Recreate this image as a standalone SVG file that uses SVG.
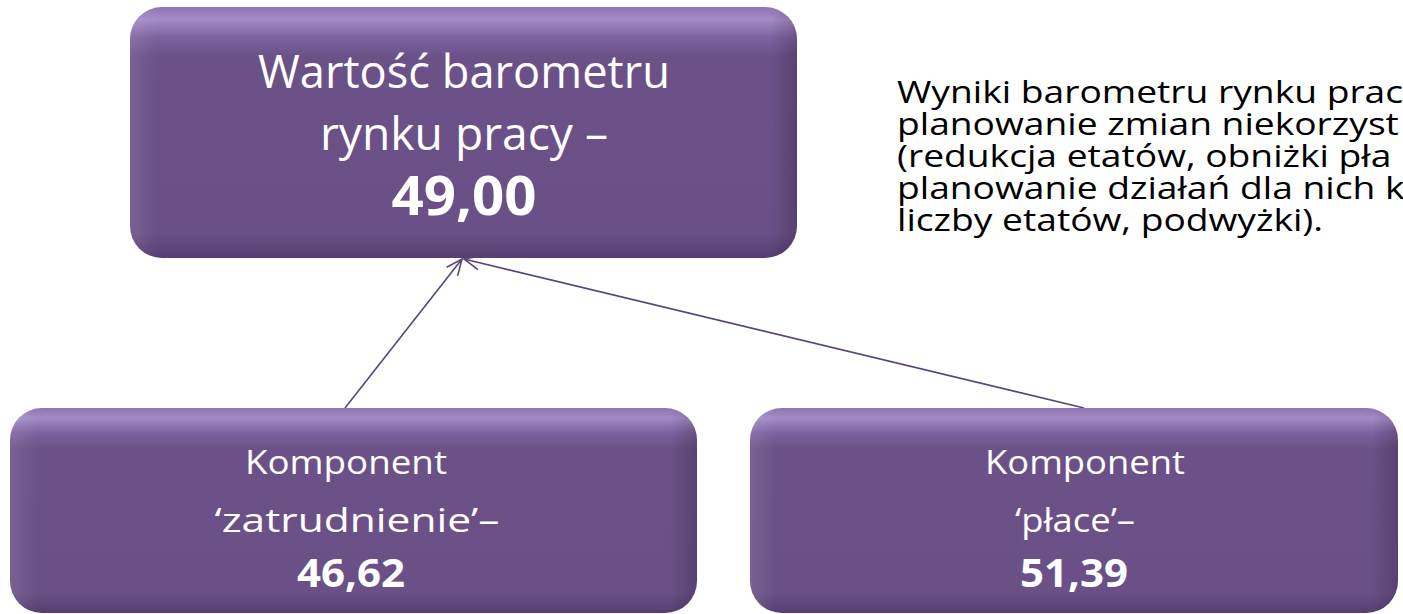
<svg xmlns="http://www.w3.org/2000/svg" width="1403" height="614" viewBox="0 0 1403 614">
  <style>
    .box { fill: url(#gv); }
    .edge { fill: url(#gh); }
    .t { font-family: "Open Sans", "Liberation Sans", sans-serif; fill: #ffffff; text-anchor: middle; }
    .big { font-size: 46px; }
    .bignum { font-size: 54px; font-weight: bold; }
    .mid { font-size: 33px; }
    .midnum { font-size: 40px; font-weight: bold; }
    .body { font-family: "Open Sans", "Liberation Sans", sans-serif; font-size: 31px; fill: #000000; }
    .conn { stroke: #5a4579; stroke-width: 1.6; fill: none; marker-end: url(#arr); }
  </style>
  <defs>
    <linearGradient id="gv" x1="0" y1="0" x2="0" y2="1">
      <stop offset="0" stop-color="#8f76b3"/>
      <stop offset="0.05" stop-color="#a38bc7"/>
      <stop offset="0.12" stop-color="#7d62a0"/>
      <stop offset="0.2" stop-color="#6b5187"/>
      <stop offset="0.9" stop-color="#6a5086"/>
      <stop offset="1" stop-color="#563f70"/>
    </linearGradient>
    <linearGradient id="gh" x1="0" y1="0" x2="1" y2="0">
      <stop offset="0" stop-color="#ffffff" stop-opacity="0.10"/>
      <stop offset="0.04" stop-color="#ffffff" stop-opacity="0"/>
      <stop offset="0.96" stop-color="#000000" stop-opacity="0"/>
      <stop offset="1" stop-color="#000000" stop-opacity="0.18"/>
    </linearGradient>
    <marker id="arr" markerWidth="20" markerHeight="20" refX="18" refY="10" orient="auto" markerUnits="userSpaceOnUse">
      <path d="M2,3 L18,10 L2,17" fill="none" stroke="#5a4579" stroke-width="1.6"/>
    </marker>
  </defs>

  <g id="connectors">
    <line class="conn" x1="345" y1="408" x2="462" y2="259"/>
    <line class="conn" x1="1084" y1="408" x2="464" y2="259"/>
  </g>

  <g id="node-barometr">
    <rect class="box" x="130" y="7" width="667" height="251" rx="32"/>
    <rect class="edge" x="130" y="7" width="667" height="251" rx="32"/>
    <text class="t big" x="464" y="88" textLength="412" lengthAdjust="spacingAndGlyphs">Wartość barometru</text>
    <text class="t big" x="464" y="150" textLength="288" lengthAdjust="spacingAndGlyphs">rynku pracy –</text>
    <text class="t bignum" x="464" y="215" textLength="145" lengthAdjust="spacingAndGlyphs">49,00</text>
  </g>

  <g id="node-zatrudnienie">
    <rect class="box" x="10" y="408" width="687" height="205" rx="32"/>
    <rect class="edge" x="10" y="408" width="687" height="205" rx="32"/>
    <text class="t mid" x="346" y="474" textLength="202" lengthAdjust="spacingAndGlyphs">Komponent</text>
    <text class="t mid" x="357" y="532" textLength="285" lengthAdjust="spacingAndGlyphs">‘zatrudnienie’–</text>
    <text class="t midnum" x="351" y="587" textLength="108" lengthAdjust="spacingAndGlyphs">46,62</text>
  </g>

  <g id="node-place">
    <rect class="box" x="750" y="408" width="648" height="205" rx="32"/>
    <rect class="edge" x="750" y="408" width="648" height="205" rx="32"/>
    <text class="t mid" x="1085" y="474" textLength="200" lengthAdjust="spacingAndGlyphs">Komponent</text>
    <text class="t mid" x="1075" y="532" textLength="120" lengthAdjust="spacingAndGlyphs">‘płace’–</text>
    <text class="t midnum" x="1074" y="587" textLength="108" lengthAdjust="spacingAndGlyphs">51,39</text>
  </g>

  <g id="note" transform="translate(897,0) scale(1.2,1)">
    <text class="body" x="0" y="103">Wyniki barometru rynku prac</text>
    <text class="body" x="0" y="135">planowanie zmian niekorzyst</text>
    <text class="body" x="0" y="167">(redukcja etatów, obniżki pła</text>
    <text class="body" x="0" y="199">planowanie działań dla nich k</text>
    <text class="body" x="0" y="231">liczby etatów, podwyżki).</text>
  </g>
</svg>
